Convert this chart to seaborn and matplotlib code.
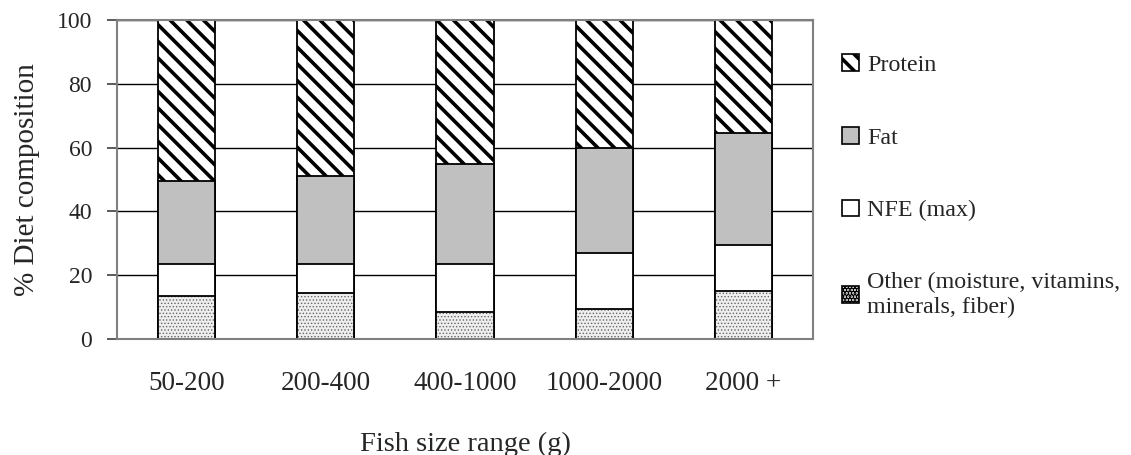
import numpy as np
import pandas as pd
import matplotlib
matplotlib.use("Agg")
import matplotlib.pyplot as plt
import seaborn as sns
from matplotlib.patches import Patch

# ---- data ----
categories = ["50-200", "200-400", "400-1000", "1000-2000", "2000 +"]
other = [13.5, 14.5, 8.5, 9.5, 15.0]
nfe = [10.0, 9.0, 15.0, 17.5, 14.5]
fat = [26.0, 27.5, 31.5, 33.0, 35.0]
protein = [50.5, 49.0, 45.0, 40.0, 35.5]
series_names = ["Protein", "Fat", "NFE (max)",
                "Other (moisture, vitamins,\nminerals, fiber)"]
yticks = [0, 20, 40, 60, 80, 100]
xlabel = "Fish size range (g)"
ylabel = "% Diet composition"

sns.set_theme(style="white")
plt.rcParams["font.family"] = ["Liberation Serif", "DejaVu Serif"]
plt.rcParams["hatch.linewidth"] = 2.6

df = pd.DataFrame({"size": categories, "Other": other, "NFE": nfe,
                   "Fat": fat, "Protein": protein})
df["c_other"] = df["Other"]
df["c_nfe"] = df["c_other"] + df["NFE"]
df["c_fat"] = df["c_nfe"] + df["Fat"]
df["c_prot"] = df["c_fat"] + df["Protein"]

fig = plt.figure(figsize=(11.31, 4.55), dpi=100)
ax = fig.add_axes([117 / 1131, 1 - 339 / 455, (813 - 117) / 1131, (339 - 20) / 455])

W = 0.41
def layer(col, **kw):
    n0 = len(ax.patches)
    sns.barplot(data=df, x="size", y=col, order=categories, width=W, ax=ax,
                errorbar=None, **kw)
    return ax.patches[n0:]

BS = "\\"
layer("c_prot", color="white", edgecolor="black", linewidth=1.3, hatch=BS * 2)
layer("c_fat", color="#c0c0c0", edgecolor="black", linewidth=1.3)
layer("c_nfe", color="white", edgecolor="black", linewidth=1.3)
ps_dots = layer("c_other", color="#eeeeee", edgecolor="#666666", linewidth=0, hatch=".....")
for p in ps_dots:
    try:
        p.set_hatch_linewidth(0.6)
    except Exception:
        pass
ps = layer("c_other", fill=False, edgecolor="black", linewidth=1.3)
for p in ps:
    p.set_fill(False)

ax.set_ylim(0, 100)
ax.set_xlim(-0.5, len(categories) - 0.5)
ax.set_yticks(yticks)
ax.set_yticklabels([str(v) for v in yticks], fontsize=17)
ax.set_xticks(range(len(categories)))
ax.set_xticklabels(categories, fontsize=19.5)
ax.set_xticks(np.arange(-0.5, len(categories)), minor=True)
ax.tick_params(axis="x", which="major", length=0, pad=23)
ax.tick_params(axis="x", which="minor", length=7, width=1.2, color="#404040", direction="out")
ax.tick_params(axis="y", which="major", length=7, width=1.2, color="#404040",
               direction="out", pad=11, left=True)
ax.yaxis.grid(True, color="black", linewidth=1.0)
ax.xaxis.grid(False)
ax.set_axisbelow(True)
for s in ax.spines.values():
    s.set_visible(True)
    s.set_color("#808080")
    s.set_linewidth(1.5)

ax.set_xlabel(xlabel, fontsize=20.5, labelpad=26)
ax.set_ylabel(ylabel, fontsize=21, labelpad=12)

handles = [
    Patch(facecolor="white", edgecolor="black", hatch=BS * 2, linewidth=1.2),
    Patch(facecolor="#c0c0c0", edgecolor="black", linewidth=1.2),
    Patch(facecolor="white", edgecolor="black", linewidth=1.2),
    Patch(facecolor="#d0d0d0", edgecolor="black", hatch=".....", linewidth=1.2),
]
fig.legend(handles, series_names, loc="upper left",
           bbox_to_anchor=(842 / 1131, 1 - 54 / 455), bbox_transform=fig.transFigure,
           frameon=False, fontsize=17.3, borderpad=0, borderaxespad=0,
           handlelength=0.7, handleheight=0.7, handletextpad=0.35,
           labelspacing=2.12)

fig.savefig("out.png", dpi=100)
